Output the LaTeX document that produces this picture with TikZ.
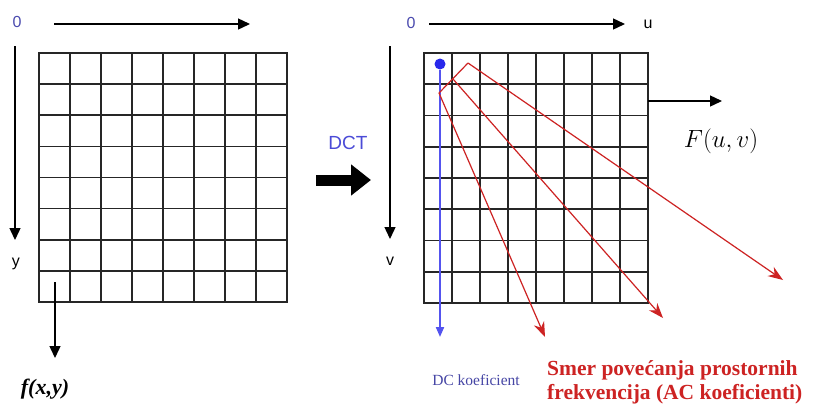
\documentclass[tikz,border=0pt]{standalone}
\usepackage{fontspec}
\setmainfont{Liberation Serif}
\setsansfont{Liberation Sans}
\usepackage{tikz}
\usetikzlibrary{arrows.meta,positioning}
\definecolor{axisblue}{RGB}{75,75,175}
\definecolor{dctblue}{RGB}{75,75,215}
\definecolor{dcblue}{RGB}{40,40,235}
\definecolor{dctext}{RGB}{70,70,165}
\definecolor{acred}{RGB}{205,35,35}

\begin{document}
\begin{tikzpicture}[x=1pt, y=-1pt,
    gridline/.style={line width=1.7pt, draw=black!85, line cap=rect},
    axis/.style={line width=1.4pt, -{Triangle[length=12pt,width=11pt]}},
    lbl/.style={font=\sffamily\fontsize{16}{18}\selectfont, inner sep=0pt},
    acarrow/.style={draw=acred, line width=1.2pt, -{Stealth[length=15pt,width=11pt]}},
    actext/.style={font=\bfseries\fontsize{21.5}{25}\selectfont, text=acred, inner sep=0pt, anchor=base west}]
    \useasboundingbox[fill=white] (0,0) rectangle (814,405);

    \foreach \i in {0,...,8} {
        \draw[gridline] ({39+31*\i},53) -- ({39+31*\i},302);
        \draw[gridline] (39,{53+31.125*\i}) -- (287,{53+31.125*\i});
        \draw[gridline] ({424+28*\i},53) -- ({424+28*\i},303);
        \draw[gridline] (424,{53+31.25*\i}) -- (648,{53+31.25*\i});
    }

    \node[lbl, text=axisblue] (lzero) at (17,22) {0};
    \coordinate (lx0) at (54,24);
    \coordinate (lx1) at (250,24);
    \draw[axis] (lx0) -- (lx1);
    \coordinate (ly0) at (15,46);
    \coordinate (ly1) at (15,240);
    \draw[axis] (ly0) -- (ly1);
    \node[lbl] (ylbl) at (16,264) {y};
    \coordinate (fx0) at (55,282);
    \coordinate (fx1) at (55,358);
    \draw[axis] (fx0) -- (fx1);
    \node[font=\fontsize{22}{24}\selectfont\bfseries\itshape, inner sep=0pt] (flbl) at (45,389) {f(x,y)};

    \node[font=\sffamily\fontsize{19}{21}\selectfont, text=dctblue, inner sep=0pt] (dct) at (348,143) {DCT};
    \coordinate (dct0) at (316,180);
    \coordinate (dct1) at (371,180);
    \draw[line width=11pt, -{Triangle[length=20pt,width=30pt]}] (dct0) -- (dct1);

    \node[lbl, text=axisblue] (rzero) at (411,23) {0};
    \coordinate (ux0) at (429,24);
    \coordinate (ux1) at (625,24);
    \draw[axis] (ux0) -- (ux1);
    \node[lbl] (ulbl) at (648,24) {u};
    \coordinate (vy0) at (390,46);
    \coordinate (vy1) at (390,239);
    \draw[axis] (vy0) -- (vy1);
    \node[lbl] (vlbl) at (390,261) {v};
    \coordinate (fu0) at (648,101);
    \coordinate (fu1) at (722,101);
    \draw[axis] (fu0) -- (fu1);
    \node[font=\fontsize{24.5}{26}\selectfont, inner sep=0pt] (Flbl) at (721,141) {$F(u,v)$};

    \node[circle, fill=dcblue, inner sep=0pt, minimum size=11pt] (dcdot) at (440,64) {};
    \coordinate (dcend) at (440,337);
    \draw[draw=dcblue!80, line width=2pt, -{Triangle[length=10pt,width=8pt]}] (dcdot) -- (dcend);
    \node[text=dctext, font=\fontsize{15.5}{18}\selectfont, inner sep=0pt] (dclbl) at (476,380) {DC koeficient};

    \coordinate (ac1) at (439,93);
    \coordinate (ac2) at (453,79);
    \coordinate (ac3) at (468,63);
    \draw[draw=acred, line width=1.2pt] (ac1) -- (ac3);
    \coordinate (ac1e) at (545,337);
    \coordinate (ac2e) at (663,318);
    \coordinate (ac3e) at (783,280);
    \draw[acarrow] (ac1) -- (ac1e);
    \draw[acarrow] (ac2) -- (ac2e);
    \draw[acarrow] (ac3) -- (ac3e);
    \node[actext] (aclbla) at (547,375) {Smer povećanja prostornih};
    \node[actext] (aclblb) at (547,399) {frekvencija (AC koeficienti)};
\end{tikzpicture}
\end{document}
